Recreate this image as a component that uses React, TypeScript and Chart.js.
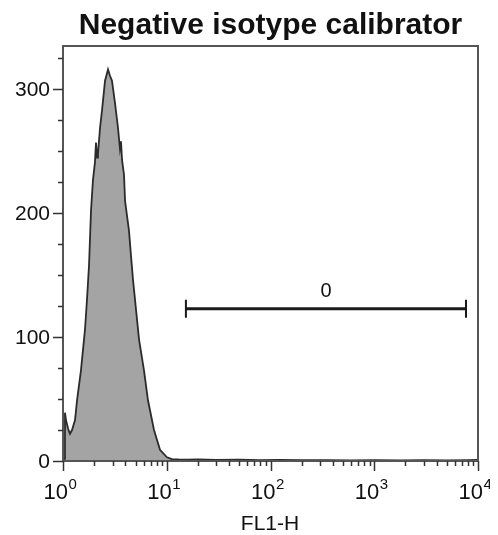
import React, { useEffect, useRef } from "react";
import { Chart, registerables } from "chart.js";

Chart.register(...registerables);

const CHART_TITLE = "Negative isotype calibrator";
const X_AXIS_TITLE = "FL1-H";

// FL1-H channel (log scale) and event counts
const fl1Channels = [
  1.0, 1.03, 1.045, 1.069, 1.12, 1.167, 1.222, 1.306, 1.365, 1.489, 1.629, 1.702, 1.782,
  1.862, 1.945, 2.032, 2.08, 2.128, 2.173, 2.275, 2.377, 2.541, 2.716, 2.838, 2.965, 3.17,
  3.388, 3.54, 3.622, 3.707, 3.873, 3.963, 4.325, 4.519, 4.732, 5.058, 5.408, 6.039, 6.592,
  7.534, 8.61, 10.05, 11.2, 13, 16, 20, 30, 50, 80, 120, 200, 350, 600, 1000, 1800, 3000,
  5000, 8000, 10000,
];
const eventCounts = [
  0, 2, 39, 33, 26, 22, 25, 33, 49, 73, 106, 130, 158, 202, 227, 241, 257, 245, 248, 269,
  283, 307, 316, 311, 307, 289, 269, 252, 258, 243, 231, 210, 186, 166, 146, 122, 98, 73,
  49, 25, 9, 3, 1.5, 1.2, 1, 1.2, 0.8, 1, 0.7, 0.8, 0.6, 0.7, 0.5, 0.6, 0.5, 0.6, 0.5,
  0.6, 0.8,
];

const yLabelValues = [0, 100, 200, 300];
const yMinorStep = 25;
const yMax = 335;
const xDecadeExponents = [0, 1, 2, 3, 4];

// Marker gate
const gateStart = 15.3;
const gateEnd = 7660;
const gateLevel = 123;
const gateLabel = "0";

const FONT = "'Liberation Sans', Arial, Helvetica, sans-serif";

const decorPlugin = {
  id: "decor",
  afterDatasetsDraw(chart: any) {
    const { ctx, chartArea, scales } = chart;
    const xs = scales.x;
    const ys = scales.y;
    const { left, right, top, bottom } = chartArea;
    ctx.save();

    // gate
    const gx1 = xs.getPixelForValue(gateStart);
    const gx2 = xs.getPixelForValue(gateEnd);
    const gy = ys.getPixelForValue(gateLevel);
    ctx.strokeStyle = "#1a1a1a";
    ctx.lineWidth = 3;
    ctx.beginPath();
    ctx.moveTo(gx1, gy);
    ctx.lineTo(gx2, gy);
    ctx.stroke();
    ctx.lineWidth = 2;
    ctx.beginPath();
    ctx.moveTo(gx1, gy - 9);
    ctx.lineTo(gx1, gy + 9);
    ctx.moveTo(gx2, gy - 9);
    ctx.lineTo(gx2, gy + 9);
    ctx.stroke();
    ctx.fillStyle = "#111";
    ctx.font = `20px ${FONT}`;
    ctx.textAlign = "center";
    ctx.textBaseline = "alphabetic";
    ctx.fillText(gateLabel, (gx1 + gx2) / 2, gy - 12);

    // frame
    ctx.strokeStyle = "#555";
    ctx.lineWidth = 2;
    ctx.strokeRect(left, top, right - left, bottom - top);

    // y ticks
    ctx.strokeStyle = "#333";
    ctx.lineWidth = 1.5;
    for (let v = 0; v <= yMax; v += yMinorStep) {
      const y = Math.round(ys.getPixelForValue(v)) + 0.5;
      const len = v % 100 === 0 ? 10 : 5;
      ctx.beginPath();
      ctx.moveTo(left - len, y);
      ctx.lineTo(left, y);
      ctx.stroke();
    }
    ctx.fillStyle = "#111";
    ctx.font = `21px ${FONT}`;
    ctx.textAlign = "right";
    ctx.textBaseline = "middle";
    yLabelValues.forEach((v) => {
      ctx.fillText(String(v), left - 13, ys.getPixelForValue(v) + 1);
    });

    // x ticks
    for (let d = 0; d < xDecadeExponents.length; d++) {
      const base = Math.pow(10, xDecadeExponents[d]);
      const maxM = d === xDecadeExponents.length - 1 ? 1 : 9;
      for (let m = 1; m <= maxM; m++) {
        const x = Math.round(xs.getPixelForValue(m * base)) + 0.5;
        const len = m === 1 ? 10 : 5;
        ctx.beginPath();
        ctx.moveTo(x, bottom);
        ctx.lineTo(x, bottom + len);
        ctx.stroke();
      }
    }
    // x labels 10^n
    ctx.textBaseline = "alphabetic";
    ctx.textAlign = "left";
    xDecadeExponents.forEach((e) => {
      const x = xs.getPixelForValue(Math.pow(10, e));
      ctx.font = `22px ${FONT}`;
      const w1 = ctx.measureText("10").width;
      ctx.font = `15px ${FONT}`;
      const w2 = ctx.measureText(String(e)).width;
      const start = x - 3 - (w1 + w2) / 2;
      ctx.font = `22px ${FONT}`;
      ctx.fillText("10", start, bottom + 38);
      ctx.font = `15px ${FONT}`;
      ctx.fillText(String(e), start + w1 + 0.5, bottom + 28);
    });

    // axis title
    ctx.font = `21px ${FONT}`;
    ctx.textAlign = "center";
    ctx.fillText(X_AXIS_TITLE, 262, bottom + 69);

    // chart title
    ctx.font = `bold 30px ${FONT}`;
    ctx.fillText(CHART_TITLE, (left + right) / 2, top - 12);

    ctx.restore();
  },
};

export default function App() {
  const ref = useRef<HTMLCanvasElement>(null);

  useEffect(() => {
    if (!ref.current) return;
    const points = fl1Channels.map((x, i) => ({ x, y: eventCounts[i] }));
    const chart = new Chart(ref.current, {
      type: "line",
      data: {
        datasets: [
          {
            data: points,
            borderColor: "#2b2b2b",
            borderWidth: 1.8,
            backgroundColor: "#a4a4a4",
            fill: "origin",
            pointRadius: 0,
            tension: 0,
          },
        ],
      },
      options: {
        responsive: false,
        animation: false,
        layout: { padding: { left: 55, top: 38, right: 20, bottom: 74 } },
        scales: {
          x: { type: "logarithmic", min: 1, max: 10000, display: false },
          y: { type: "linear", min: 0, max: yMax, display: false },
        },
        plugins: {
          legend: { display: false },
          tooltip: { enabled: false },
          title: { display: false },
        },
      },
      plugins: [decorPlugin],
    });
    return () => chart.destroy();
  }, []);

  return (
    <div style={{ width: 490, height: 527 }}>
      <canvas ref={ref} width={490} height={527} style={{ display: "block" }} />
    </div>
  );
}
